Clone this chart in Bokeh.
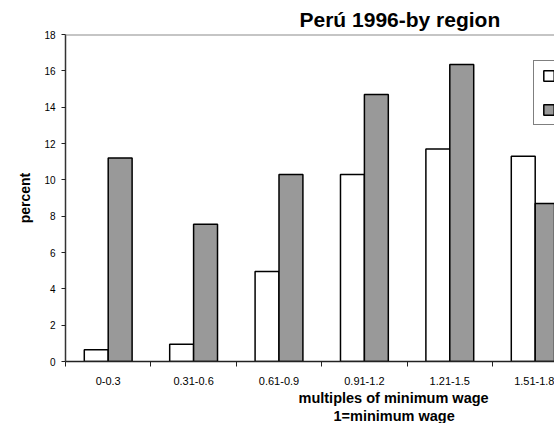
from bokeh.plotting import figure
from bokeh.models import (ColumnDataSource, Range1d, FixedTicker, Span, Legend,
                          LegendItem, Title)
from bokeh.transform import dodge
from bokeh.embed import file_html
from bokeh.resources import INLINE

# ---- data ----
categories = ["0-0.3", "0.31-0.6", "0.61-0.9", "0.91-1.2", "1.21-1.5", "1.51-1.8"]
series_a = [0.65, 0.95, 4.95, 10.3, 11.7, 11.3]     # white bars
series_b = [11.2, 7.55, 10.3, 14.7, 16.35, 8.7]     # gray bars
series_names = ["urban", "rural"]                   # legend labels lie outside the visible crop
y_ticks = [0, 2, 4, 6, 8, 10, 12, 14, 16, 18]
title_text = "Perú 1996-by region"
x_title_1 = "multiples of minimum wage"
x_title_2 = "1=minimum wage"
y_title = "percent"

FONT = "Liberation Sans"

pos = [i + 0.5 for i in range(len(categories))]
boundaries = list(range(len(categories) + 1))
src = ColumnDataSource(dict(pos=pos, cat=categories, a=series_a, b=series_b))

p = figure(frame_width=489, frame_height=327,
           min_border_left=65, min_border_right=0, min_border_top=34, min_border_bottom=0,
           x_range=Range1d(0, 5.726), y_range=Range1d(0, 18),
           output_backend="svg", toolbar_location=None, title=title_text)

p.title.text_font = FONT
p.title.text_font_size = "21px"
p.title.text_font_style = "bold"
p.title.text_color = "black"
p.title.align = "left"
p.title.offset = 234
p.title.standoff = 8

p.outline_line_color = None
p.grid.visible = False
p.background_fill_color = "white"
p.border_fill_color = "white"

ra = p.vbar(x=dodge("pos", -0.14), top="a", width=0.28, source=src,
            fill_color="white", line_color="black", line_width=1.5)
rb = p.vbar(x=dodge("pos", 0.14), top="b", width=0.28, source=src,
            fill_color="#999999", line_color="black", line_width=1.5)

top_line = Span(location=18, dimension="width", line_color="#8c8c8c", line_width=2)
p.add_layout(top_line)

# x axis
xa = p.xaxis[0]
xa.ticker = FixedTicker(ticks=pos, minor_ticks=boundaries)
xa.major_label_overrides = {pos[i]: categories[i] for i in range(len(categories))}
xa.major_tick_line_color = None
xa.major_tick_out = 0
xa.major_tick_in = 0
xa.minor_tick_out = 5
xa.minor_tick_in = 0
xa.minor_tick_line_color = "#222222"
xa.minor_tick_line_width = 1
xa.axis_line_color = "#222222"
xa.axis_line_width = 1.5
xa.major_label_standoff = 10
xa.major_label_text_font = FONT
xa.major_label_text_font_size = "11px"
xa.major_label_text_color = "black"

# y axis
ya = p.yaxis[0]
ya.ticker = FixedTicker(ticks=y_ticks)
ya.major_tick_out = 4
ya.major_tick_in = 0
ya.minor_tick_line_color = None
ya.major_tick_line_color = "#222222"
ya.axis_line_color = "#333333"
ya.axis_line_width = 1.5
ya.major_label_standoff = 6
ya.major_label_text_font = FONT
ya.major_label_text_font_size = "10px"
ya.major_label_text_color = "black"
ya.axis_label = y_title
ya.axis_label_text_font = FONT
ya.axis_label_text_font_size = "14px"
ya.axis_label_text_font_style = "bold"
ya.axis_label_text_color = "black"
ya.axis_label_standoff = 8

# x axis titles (two lines)
t1 = Title(text=x_title_1, align="left", offset=233, text_font=FONT,
           text_font_size="14.5px", text_font_style="bold", text_color="black", standoff=0)
t2 = Title(text=x_title_2, align="left", offset=268, text_font=FONT,
           text_font_size="14.5px", text_font_style="bold", text_color="black", standoff=0)
p.add_layout(t1, "below")
p.add_layout(t2, "below")

# legend: only its left part is visible in the reference crop, label text is off-canvas
legend = Legend(items=[LegendItem(label=" ", renderers=[ra]),
                       LegendItem(label=" ", renderers=[rb])],
                location=(468, 236), padding=8, spacing=21,
                glyph_width=13, glyph_height=13, label_height=13, label_standoff=30,
                label_text_font=FONT, label_text_font_size="12px",
                border_line_color="black", border_line_width=1,
                background_fill_color="white", background_fill_alpha=1)
p.add_layout(legend)

open("out.html", "w").write(file_html(p, INLINE))
